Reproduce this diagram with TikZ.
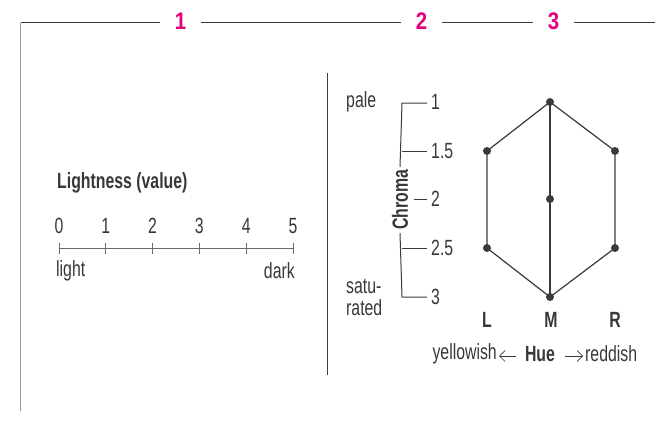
\documentclass[tikz,border=0pt]{standalone}
\usepackage{fontspec}
\setmainfont{Liberation Sans}[FakeStretch=0.72]
\newfontfamily\numfont{Liberation Sans}[FakeStretch=0.85]
\usetikzlibrary{arrows.meta}
\definecolor{ink}{HTML}{383838}
\definecolor{lineink}{HTML}{3A3A3A}
\definecolor{softline}{HTML}{9A9A9A}
\definecolor{axisgray}{HTML}{6A6A6A}
\definecolor{hotpink}{HTML}{E4007C}
\begin{document}
\begin{tikzpicture}[x=1pt,y=-1pt,
  every node/.style={text=ink,inner sep=0pt,font=\fontsize{22}{22}\selectfont},
  bold/.style={font=\fontsize{22}{22}\selectfont\bfseries},
  secnum/.style={font=\numfont\fontsize{24}{24}\selectfont\bfseries,text=hotpink,minimum width=41pt},
  frame/.style={draw=lineink,line width=1pt},
  sideframe/.style={draw=softline,line width=1.2pt},
  axisline/.style={draw=axisgray,line width=0.9pt},
  hexline/.style={draw=lineink,line width=1.2pt},
  huearrow/.style={draw=ink,line width=0.7pt},
  dot/.style={circle,fill=lineink,minimum size=8pt,inner sep=0pt}
]
\useasboundingbox (0,0) rectangle (655,423);

% ---- top frame with section numbers
\coordinate (corner) at (20.7,22.5);
\coordinate (rightend) at (655,22.5);
\coordinate (bottomend) at (20.7,411);
\node[secnum] (n1) at (180.5,21) {1};
\node[secnum] (n2) at (421.5,21) {2};
\node[secnum] (n3) at (553.5,21) {3};
\draw[frame] (corner) -- (n1.west |- corner);
\draw[frame] (n1.east |- corner) -- (n2.west |- corner);
\draw[frame] (n2.east |- corner) -- (n3.west |- corner);
\draw[frame] (n3.east |- corner) -- (rightend);
\draw[sideframe] (corner) -- (bottomend);

% ---- lightness scale
\node[bold,anchor=west] (ltitle) at (57,183) {Lightness (value)};
\foreach \i/\x in {0/59,1/105.8,2/152.6,3/199.4,4/246.2,5/293}{
  \coordinate (t\i) at (\x,248);
  \node (v\i) at (\x,226) {\i};
  \draw[axisline] ([yshift=-5.5pt]t\i) -- ([yshift=5.5pt]t\i);
}
\draw[axisline] (t0) -- (t5);
\node[anchor=west] (light) at (56,271) {light};
\node[anchor=east] (dark) at (295,271) {dark};

% ---- separator
\coordinate (sepTop) at (327,73);
\coordinate (sepBot) at (327,375);
\draw[frame] (sepTop) -- (sepBot);

% ---- chroma scale
\node[bold,rotate=90,inner xsep=3pt] (chroma) at (400,200) {Chroma};
\coordinate (b1) at (402,103);
\coordinate (b15) at (402,151);
\coordinate (b25) at (402,248);
\coordinate (b3) at (402,297);
\coordinate (b2) at (414,199);
\node[anchor=west] (c1) at (431,102) {1};
\node[anchor=west] (c15) at (431,151) {1.5};
\node[anchor=west] (c2) at (431,199) {2};
\node[anchor=west] (c25) at (431,248) {2.5};
\node[anchor=west] (c3) at (431,297) {3};
\draw[frame] (chroma.east) -- (b1) -- (427,103);
\draw[frame] (b15) -- (427,151);
\draw[frame] (b2) -- (427,199);
\draw[frame] (chroma.west) -- (b3) -- (427,297);
\draw[frame] (b25) -- (427,248);
\node[anchor=west] (pale) at (346,102) {pale};
\node[anchor=west,align=left] (sat) at (346,297) {satu-\\[0pt]rated};

% ---- hexagon
\node[dot] (top) at (550,102) {};
\node[dot] (ul) at (487,151) {};
\node[dot] (ur) at (615,151) {};
\node[dot] (mid) at (550,199) {};
\node[dot] (ll) at (487,248) {};
\node[dot] (lr) at (615,248) {};
\node[dot] (bot) at (550,297) {};
\draw[hexline] (top.center) -- (ul.center) -- (ll.center) -- (bot.center) -- (lr.center) -- (ur.center) -- cycle;
\draw[hexline] (top.center) -- (bot.center);

\node[bold] (L) at (487,320) {L};
\node[bold] (M) at (551,320) {M};
\node[bold] (R) at (615,320) {R};

% ---- hue row
\node[anchor=east] (yel) at (497,354) {yellowish};
\node[bold] (hue) at (540,354) {Hue};
\node[anchor=west] (red) at (585,354) {reddish};
\coordinate (la) at (499,356);
\coordinate (lb) at (516,356);
\coordinate (ra) at (565,356);
\coordinate (rb) at (583,356);
\draw[huearrow,{Straight Barb[length=5.5pt,width=11pt]}-] (la) -- (lb);
\draw[huearrow,-{Straight Barb[length=5.5pt,width=11pt]}] (ra) -- (rb);
\end{tikzpicture}
\end{document}
